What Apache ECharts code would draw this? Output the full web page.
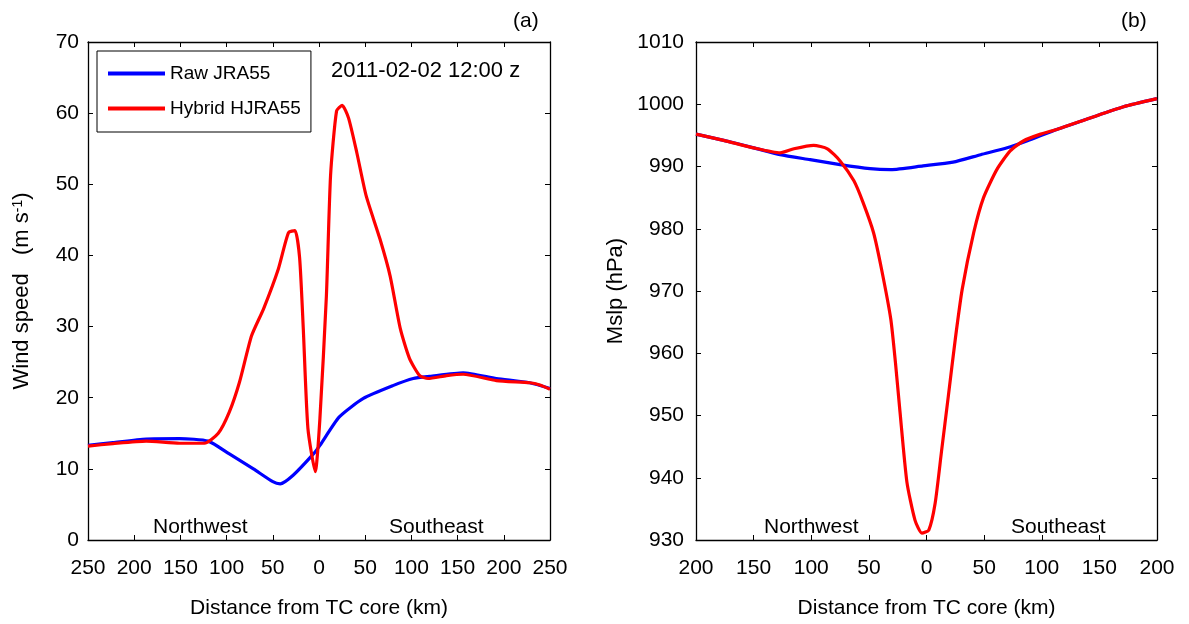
<!DOCTYPE html>
<html>
<head>
<meta charset="utf-8">
<script src="https://cdn.jsdelivr.net/npm/echarts@6/dist/echarts.min.js"></script>
<style>
  html, body { margin: 0; padding: 0; background: #fff; }
  #chart { width: 1189px; height: 624px; }
</style>
</head>
<body>
<div id="chart"></div>
<script>
// (a) wind speed, distance in km (negative = northwest)
const windRawX = [-250, -223, -187, -151, -120, -97, -71, -50, -42, -28, -6, 1, 22, 48, 80, 102, 120, 156, 192, 228, 250]
const windRawY = [13.3, 13.7, 14.2, 14.25, 13.9, 12.1, 10.0, 8.2, 7.9, 9.1, 12.1, 13.3, 17.3, 19.9, 21.7, 22.7, 23.0, 23.5, 22.7, 22.1, 21.3]
const windHybX = [-250, -223, -187, -151, -124, -109, -97, -86, -73, -60, -44, -33, -26, -21, -17, -12, -4, 1, 8, 12.5, 19, 25, 32, 41, 51, 66, 77, 88, 98, 109, 118, 138, 156, 192, 228, 239, 250]
const windHybY = [13.2, 13.55, 13.9, 13.6, 13.6, 15.0, 18.0, 22.2, 28.7, 32.5, 38.1, 43.2, 43.5, 39.7, 29.7, 15.7, 9.6, 17.1, 34.3, 51.2, 60.3, 61.1, 59.3, 54.4, 48.4, 42.3, 37.1, 29.7, 25.5, 23.1, 22.7, 23.1, 23.3, 22.4, 22.1, 21.8, 21.2]

// (b) mslp
const mslpRawX = [-200, -176, -150, -127, -101, -75, -49, -31, -3, 23, 47, 70, 87, 113, 142, 171, 200]
const mslpRawY = [995.2, 994.2, 993.0, 991.9, 991.1, 990.3, 989.65, 989.5, 990.1, 990.7, 991.9, 993.0, 994.1, 995.95, 997.8, 999.6, 1000.9]
const mslpHybX = [-200, -176, -150, -127, -115, -98, -86, -75, -63, -55, -46, -39, -31, -27, -23, -17, -10, -4, 2, 7.5, 13, 19, 25, 31, 41, 49.5, 61, 72.6, 84, 99, 113, 142, 171, 200]
const mslpHybY = [995.2, 994.2, 993.0, 992.2, 992.85, 993.4, 992.85, 990.9, 987.7, 984.2, 979.4, 973.5, 965.5, 958.6, 950.6, 939.3, 933.2, 931.1, 931.6, 935.9, 944.2, 953.2, 962.3, 970.3, 979.4, 985.0, 989.5, 992.5, 994.1, 995.2, 995.95, 997.8, 999.6, 1000.9]

const pairs = (xs, ys) => xs.map((x, i) => [x, ys[i]])

const FONT = 'Liberation Sans'
const txt = { fontSize: 21, color: '#000', fontFamily: FONT }
const lineAxis = { onZero: false, lineStyle: { color: '#000', width: 1.3 } }
const inTick = { inside: true, length: 5, lineStyle: { color: '#000', width: 1 } }

function xAxes(idx, lim) {
	return [
		{
			type: 'value', gridIndex: idx, min: -lim, max: lim, interval: 50,
			axisLine: lineAxis, axisTick: inTick, splitLine: { show: false },
			axisLabel: { ...txt, margin: 18, formatter: (v) => String(Math.abs(v)) },
			name: 'Distance from TC core (km)', nameLocation: 'middle', nameGap: 58,
			nameTextStyle: txt
		},
		{
			type: 'value', gridIndex: idx, position: 'top', min: -lim, max: lim, interval: 50,
			axisLine: lineAxis, axisTick: inTick, splitLine: { show: false }, axisLabel: { show: false }
		}
	]
}

function yAxes(idx, min, max, interval, name, gap, margin, nameSize) {
	return [
		{
			type: 'value', gridIndex: idx, min: min, max: max, interval: interval,
			axisLine: lineAxis, axisTick: inTick, splitLine: { show: false },
			axisLabel: { ...txt, margin: margin, formatter: (v) => String(v) },
			name: name, nameLocation: 'middle', nameGap: gap, nameRotate: 90,
			nameTextStyle: {
				...txt, fontSize: nameSize,
				rich: { sup: { fontSize: 14, color: '#000', fontFamily: FONT, verticalAlign: 'top', padding: [0, 0, 8, 0] } }
			}
		},
		{
			type: 'value', gridIndex: idx, position: 'right', min: min, max: max, interval: interval,
			axisLine: lineAxis, axisTick: inTick, splitLine: { show: false }, axisLabel: { show: false }
		}
	]
}

function line(name, color, data, xi, yi, z) {
	return {
		name: name, type: 'line', xAxisIndex: xi, yAxisIndex: yi, data: data,
		showSymbol: false, smooth: 0.2, z: z,
		lineStyle: { color: color, width: 3.2 }, itemStyle: { color: color }
	}
}

const chart = echarts.init(document.getElementById('chart'))
chart.setOption({
	backgroundColor: '#fff',
	animation: false,
	grid: [
		{ left: 88, top: 42, width: 462, height: 500 },
		{ left: 696, top: 42, width: 461, height: 500 }
	],
	xAxis: [...xAxes(0, 250), ...xAxes(1, 200)],
	yAxis: [
		...yAxes(0, 0, 70, 10, 'Wind speed   (m s{sup|-1})', 55, 9, 22),
		...yAxes(1, 930, 1010, 10, 'Mslp (hPa)', 69, 12, 22)
	],
	legend: {
		left: 97, top: 51, orient: 'vertical',
		data: ['Raw JRA55', 'Hybrid HJRA55'],
		icon: 'rect', itemWidth: 57, itemHeight: 4, itemGap: 16,
		padding: [13, 10, 14, 11],
		borderColor: '#000', borderWidth: 1,
		textStyle: { fontSize: 19, color: '#000', fontFamily: FONT }
	},
	graphic: [
		{ type: 'text', left: 331, top: 60, style: { text: '2011-02-02 12:00 z', fontSize: 22, fill: '#000', fontFamily: FONT } },
		{ type: 'text', left: 513, top: 11, style: { text: '(a)', fontSize: 21, fill: '#000', fontFamily: FONT } },
		{ type: 'text', left: 1121, top: 11, style: { text: '(b)', fontSize: 21, fill: '#000', fontFamily: FONT } },
		{ type: 'text', left: 153, top: 517, style: { text: 'Northwest', fontSize: 21, fill: '#000', fontFamily: FONT } },
		{ type: 'text', left: 389, top: 517, style: { text: 'Southeast', fontSize: 21, fill: '#000', fontFamily: FONT } },
		{ type: 'text', left: 764, top: 517, style: { text: 'Northwest', fontSize: 21, fill: '#000', fontFamily: FONT } },
		{ type: 'text', left: 1011, top: 517, style: { text: 'Southeast', fontSize: 21, fill: '#000', fontFamily: FONT } }
	],
	series: [
		line('Raw JRA55', '#0000ff', pairs(windRawX, windRawY), 0, 0, 2),
		line('Hybrid HJRA55', '#ff0000', pairs(windHybX, windHybY), 0, 0, 3),
		line('Raw JRA55', '#0000ff', pairs(mslpRawX, mslpRawY), 2, 2, 2),
		line('Hybrid HJRA55', '#ff0000', pairs(mslpHybX, mslpHybY), 2, 2, 3)
	]
})
</script>
</body>
</html>
